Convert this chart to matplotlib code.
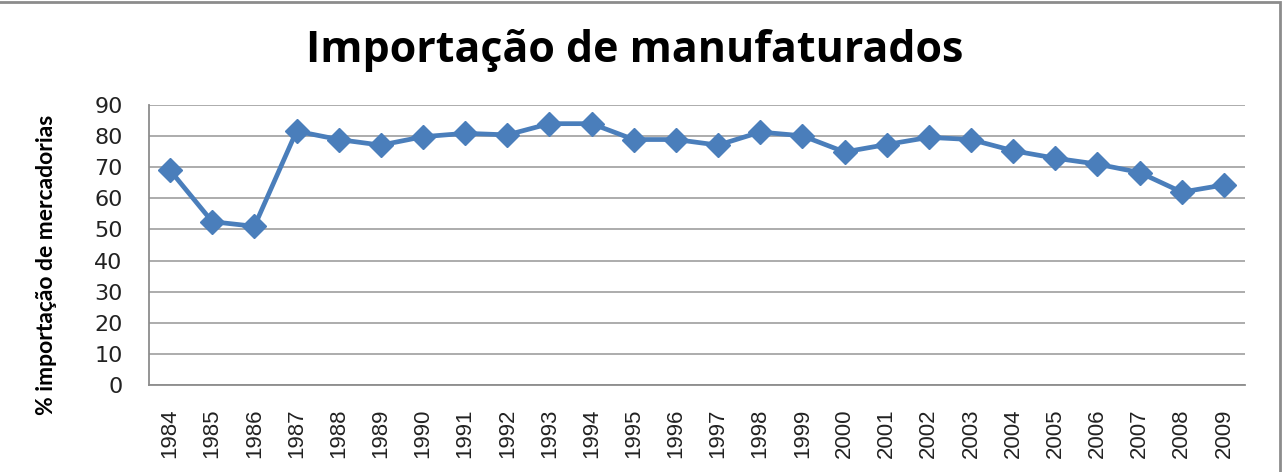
import matplotlib
matplotlib.use("Agg")
import matplotlib.pyplot as plt
from matplotlib.patches import Rectangle

# Data
years = ["1984", "1985", "1986", "1987", "1988", "1989", "1990", "1991", "1992",
         "1993", "1994", "1995", "1996", "1997", "1998", "1999", "2000", "2001",
         "2002", "2003", "2004", "2005", "2006", "2007", "2008", "2009"]
share = [69.0, 52.5, 51.0, 81.6, 78.9, 77.1, 79.8, 80.9, 80.4,
         84.0, 84.0, 78.9, 78.9, 77.1, 81.3, 80.1, 74.9, 77.3,
         79.6, 78.9, 75.3, 72.9, 71.0, 68.3, 62.0, 64.3]
yticks = [0, 10, 20, 30, 40, 50, 60, 70, 80, 90]


def main():
    fig = plt.figure(figsize=(12.88, 4.72), dpi=100)
    ax = fig.add_axes([149 / 1288, 87 / 472, 1096 / 1288, 280 / 472])

    x = list(range(len(years)))
    ax.plot(x, share, color="#4A7EBB", linewidth=3.4, marker="D",
            markersize=12, markeredgecolor="#4A7EBB", zorder=3)

    ax.set_xlim(-0.5, len(years) - 0.5)
    ax.set_ylim(0, 90)
    ax.set_yticks(yticks)
    ax.set_xticks(x)
    ax.set_xticklabels(years, rotation=90, fontsize=16, family="Liberation Sans",
                       color="#222222")
    ax.set_yticklabels([str(v) for v in yticks], fontsize=16,
                       family="DejaVu Sans", color="#222222")
    ax.tick_params(axis="x", length=0, pad=17)
    ax.tick_params(axis="y", length=0, pad=19)

    # Excel-like gray grid and plot border
    ax.grid(axis="y", color="#A6A6A6", linewidth=1.3)
    ax.set_axisbelow(True)
    for side in ["left", "bottom"]:
        ax.spines[side].set_color("#8C8C8C")
        ax.spines[side].set_linewidth(1.3)
    for side in ["top", "right"]:
        ax.spines[side].set_visible(False)

    fig.text(635 / 1288, 1 - 50 / 472, "Importação de manufaturados",
             ha="center", va="center", fontsize=31, fontweight="bold",
             family="Open Sans")
    fig.text(47 / 1288, 1 - 265 / 472, "% importação de mercadorias",
             rotation=90, ha="center", va="center", fontsize=16.5,
             fontweight="bold", family="Lato")

    # chart area frame (cut off on left and bottom in the original)
    fig.patches.append(Rectangle((-0.01, -0.01), 1280 / 1288 + 0.01, 1 - 1.5 / 472 + 0.01,
                                 transform=fig.transFigure, fill=False,
                                 edgecolor="#8C8C8C", linewidth=2))

    fig.savefig("out.png", dpi=100)


if __name__ == "__main__":
    main()
